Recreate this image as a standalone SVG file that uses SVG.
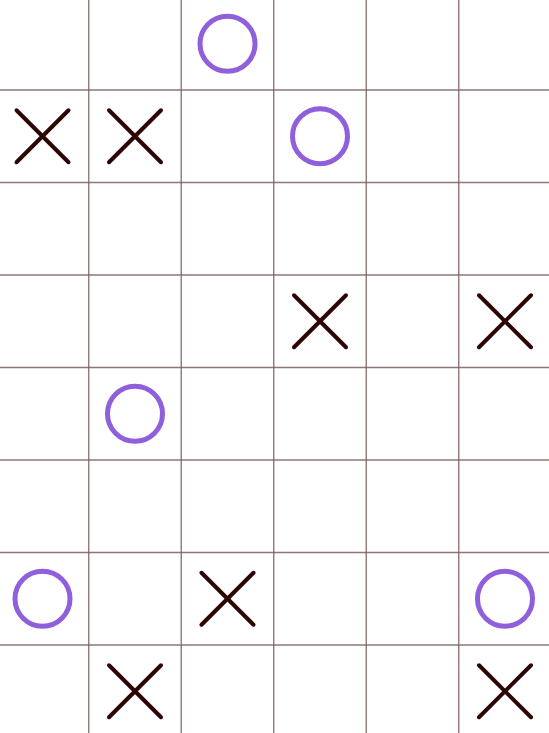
<svg xmlns="http://www.w3.org/2000/svg" width="549" height="733" viewBox="0 0 549 733">
<style>
.grid line{stroke:#7a5f5f;stroke-width:1.4;stroke-opacity:0.85}
.x line{stroke:#2e0505;stroke-width:4;stroke-linecap:round}
.o circle{fill:none;stroke:#8f5fdc;stroke-width:5}
</style>
<defs>
<g id="xm" class="x"><line x1="-26" y1="-26" x2="26" y2="26"/><line x1="26" y1="-26" x2="-26" y2="26"/></g>
<g id="om" class="o"><circle cx="0" cy="0" r="27.5"/></g>
</defs>
<rect width="549" height="733" fill="#ffffff"/>
<g id="connectors" class="grid">
<line x1="88.75" y1="0" x2="88.75" y2="733"/>
<line x1="181.25" y1="0" x2="181.25" y2="733"/>
<line x1="273.75" y1="0" x2="273.75" y2="733"/>
<line x1="366.25" y1="0" x2="366.25" y2="733"/>
<line x1="458.75" y1="0" x2="458.75" y2="733"/>
<line x1="0" y1="90" x2="549" y2="90"/>
<line x1="0" y1="182.5" x2="549" y2="182.5"/>
<line x1="0" y1="275" x2="549" y2="275"/>
<line x1="0" y1="367.5" x2="549" y2="367.5"/>
<line x1="0" y1="460" x2="549" y2="460"/>
<line x1="0" y1="552.5" x2="549" y2="552.5"/>
<line x1="0" y1="645" x2="549" y2="645"/>
</g>
<g id="o-r0c2"><use href="#om" x="227.5" y="43.75"/></g>
<g id="x-r1c0"><use href="#xm" x="42.5" y="136.25"/></g>
<g id="x-r1c1"><use href="#xm" x="135" y="136.25"/></g>
<g id="o-r1c3"><use href="#om" x="320" y="136.25"/></g>
<g id="x-r3c3"><use href="#xm" x="320" y="321.25"/></g>
<g id="x-r3c5"><use href="#xm" x="505" y="321.25"/></g>
<g id="o-r4c1"><use href="#om" x="135" y="413.75"/></g>
<g id="o-r6c0"><use href="#om" x="42.5" y="598.75"/></g>
<g id="x-r6c2"><use href="#xm" x="227.5" y="598.75"/></g>
<g id="o-r6c5"><use href="#om" x="505" y="598.75"/></g>
<g id="x-r7c1"><use href="#xm" x="135" y="691.25"/></g>
<g id="x-r7c5"><use href="#xm" x="505" y="691.25"/></g>
</svg>
